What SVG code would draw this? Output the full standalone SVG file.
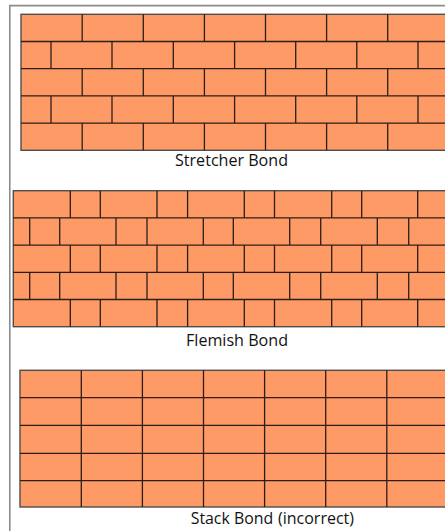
<svg xmlns="http://www.w3.org/2000/svg" width="445" height="531" viewBox="0 0 445 531">
<style>
.brick{fill:#FE9A66;stroke:#4d4d4d;stroke-width:1.4}
.joint{fill:none;stroke:#2e1f16;stroke-width:1.3}
.frame{fill:none;stroke:#8c8c8c;stroke-width:1.6}
.cap{font-family:"Open Sans","Liberation Sans",sans-serif;font-size:16.5px;fill:#121212}
</style>
<rect width="445" height="531" fill="#ffffff"/>
<path class="frame" d="M9.8 531V5.6H446"/>
<g id="stretcher-bond">
<rect class="brick" x="21" y="14.3" width="432" height="136"/>
<path class="joint" d="M21 41.5H453M21 68.7H453M21 95.9H453M21 123.1H453"/>
<path class="joint" d="M82.2 14.3V41.5M82.2 68.7V95.9M82.2 123.1V150.3M143.3 14.3V41.5M143.3 68.7V95.9M143.3 123.1V150.3M204.4 14.3V41.5M204.4 68.7V95.9M204.4 123.1V150.3M265.5 14.3V41.5M265.5 68.7V95.9M265.5 123.1V150.3M326.6 14.3V41.5M326.6 68.7V95.9M326.6 123.1V150.3M387.7 14.3V41.5M387.7 68.7V95.9M387.7 123.1V150.3"/>
<path class="joint" d="M51 41.5V68.7M51 95.9V123.1M112 41.5V68.7M112 95.9V123.1M173.3 41.5V68.7M173.3 95.9V123.1M234.6 41.5V68.7M234.6 95.9V123.1M295.7 41.5V68.7M295.7 95.9V123.1M356.8 41.5V68.7M356.8 95.9V123.1M418 41.5V68.7M418 95.9V123.1"/>
</g>
<g id="stretcher-label"><text class="cap" x="175" y="166" textLength="113" lengthAdjust="spacingAndGlyphs">Stretcher Bond</text></g>
<g id="flemish-bond">
<rect class="brick" x="13.3" y="190.7" width="440" height="136"/>
<path class="joint" d="M13.3 217.9H453M13.3 245.1H453M13.3 272.3H453M13.3 299.5H453"/>
<path class="joint" d="M70.3 190.7V217.9M70.3 245.1V272.3M70.3 299.5V326.7M100.3 190.7V217.9M100.3 245.1V272.3M100.3 299.5V326.7M157 190.7V217.9M157 245.1V272.3M157 299.5V326.7M187.6 190.7V217.9M187.6 245.1V272.3M187.6 299.5V326.7M244.3 190.7V217.9M244.3 245.1V272.3M244.3 299.5V326.7M274.5 190.7V217.9M274.5 245.1V272.3M274.5 299.5V326.7M331.7 190.7V217.9M331.7 245.1V272.3M331.7 299.5V326.7M361.7 190.7V217.9M361.7 245.1V272.3M361.7 299.5V326.7M417.7 190.7V217.9M417.7 245.1V272.3M417.7 299.5V326.7"/>
<path class="joint" d="M29.7 217.9V245.1M29.7 272.3V299.5M59.7 217.9V245.1M59.7 272.3V299.5M116 217.9V245.1M116 272.3V299.5M147 217.9V245.1M147 272.3V299.5M203.3 217.9V245.1M203.3 272.3V299.5M233.3 217.9V245.1M233.3 272.3V299.5M289.7 217.9V245.1M289.7 272.3V299.5M320.7 217.9V245.1M320.7 272.3V299.5M377.3 217.9V245.1M377.3 272.3V299.5M408.7 217.9V245.1M408.7 272.3V299.5"/>
</g>
<g id="flemish-label"><text class="cap" x="186" y="346" textLength="102" lengthAdjust="spacingAndGlyphs">Flemish Bond</text></g>
<g id="stack-bond">
<rect class="brick" x="20" y="370.3" width="433" height="136.7"/>
<path class="joint" d="M20 397.7H453M20 425.3H453M20 453.3H453M20 480.7H453"/>
<path class="joint" d="M81.3 370.3V507M142.4 370.3V507M203.5 370.3V507M264.6 370.3V507M325.7 370.3V507M386.8 370.3V507"/>
</g>
<g id="stack-label">
<text class="cap" x="190.7" y="523.5" textLength="82.5" lengthAdjust="spacingAndGlyphs">Stack Bond</text>
<text class="cap" x="278" y="523.5" style="font-size:16px" textLength="76" lengthAdjust="spacingAndGlyphs">(incorrect)</text>
</g>
<g id="connectors"/>
</svg>
